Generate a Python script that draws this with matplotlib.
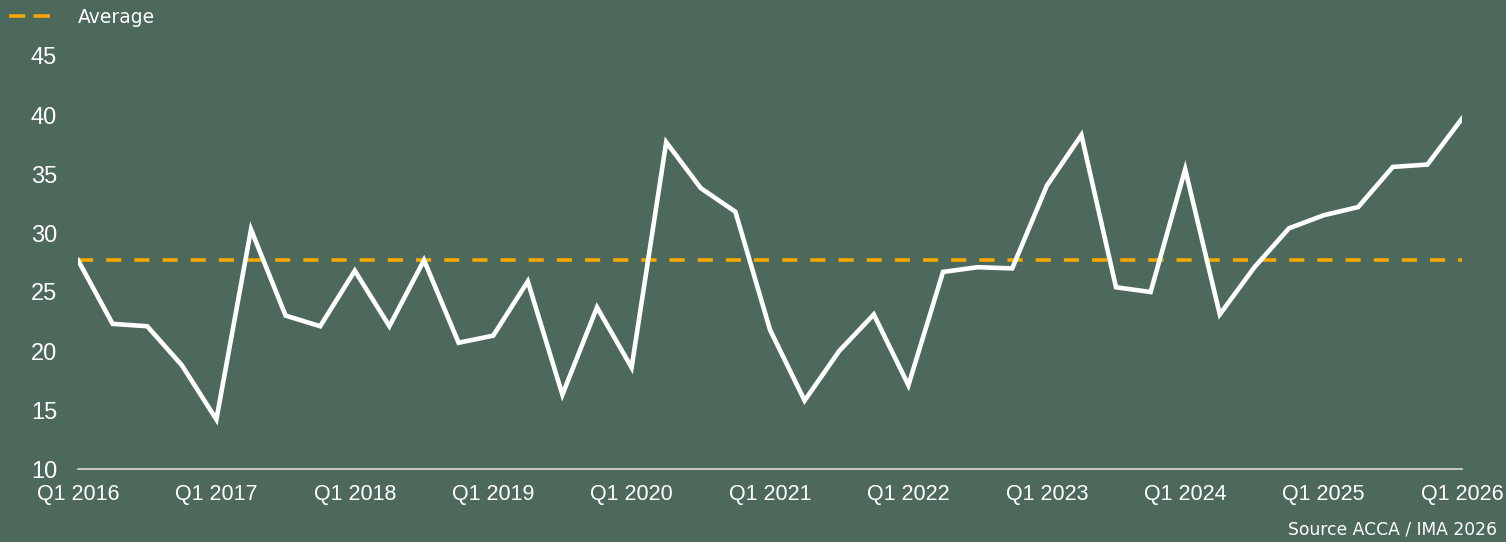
import numpy as np
import matplotlib.pyplot as plt
from matplotlib.lines import Line2D

# quarterly index Q1 2016 .. Q1 2026
quarters = [f"Q{q} {y}" for y in range(2016, 2027) for q in range(1, 5)][:41]
values = [27.7, 22.3, 22.1, 18.8, 14.2, 30.3, 23.0, 22.1, 26.8, 22.1,
          27.7, 20.7, 21.3, 25.9, 16.3, 23.7, 18.6, 37.7, 33.8, 31.8,
          21.8, 15.8, 20.0, 23.1, 17.1, 26.7, 27.1, 27.0, 34.0, 38.3,
          25.4, 25.0, 35.4, 23.1, 27.1, 30.4, 31.5, 32.2, 35.6, 35.8,
          39.7]
average = 27.7
yticks = [10, 15, 20, 25, 30, 35, 40, 45]

bg = "#4c695b"
orange = "#f5a800"

fig = plt.figure(figsize=(15.06, 5.42), dpi=100, facecolor=bg)
ax = fig.add_axes([78 / 1506, 1 - 469 / 542, (1462 - 78) / 1506, (469 - 56) / 542])
ax.set_facecolor(bg)

x = np.arange(len(values))
ax.plot(x, values, color="white", lw=3.3, solid_joinstyle="miter", zorder=3)
ax.plot(x, [average] * len(x), color=orange, lw=2.6,
        dashes=(4.2, 3.6), zorder=2, label="Average")

ax.set_xlim(0, len(values) - 1)
ax.set_ylim(10, 45)
ax.set_yticks(yticks)
ax.set_xticks(x[::4])
ax.set_xticklabels([quarters[i] for i in x[::4]])

for s in ["top", "right", "left"]:
    ax.spines[s].set_visible(False)
ax.spines["bottom"].set_color("#d9d9d9")
ax.spines["bottom"].set_linewidth(1.2)
ax.tick_params(axis="both", length=0, colors="white")
ax.tick_params(axis="y", labelsize=17, pad=15)
ax.tick_params(axis="x", labelsize=15.5, pad=10.5)
for lab in ax.get_xticklabels() + ax.get_yticklabels():
    lab.set_family("Liberation Sans")

handle = Line2D([], [], color=orange, lw=2.6, dashes=(4.5, 2.3))
leg = fig.legend(handles=[handle], labels=["Average"], loc="upper left",
                 bbox_to_anchor=(0.001, 0.999), frameon=False, handlelength=2.2,
                 handletextpad=1.45, borderaxespad=0,
                 prop={"family": "DejaVu Sans", "size": 13.5})
for t in leg.get_texts():
    t.set_color("white")

fig.text(0.994, 0.006, "Source ACCA / IMA 2026", ha="right", va="bottom",
         color="white", fontsize=12.3, family="DejaVu Sans")

fig.savefig("out.png", dpi=100, facecolor=bg)
